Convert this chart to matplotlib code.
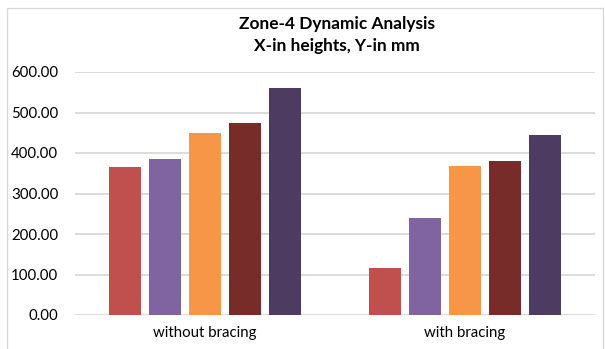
import numpy as np
import matplotlib.pyplot as plt
from matplotlib.patches import Rectangle

# data
categories = ['without bracing', 'with bracing']
series_1 = [365, 115]
series_2 = [385, 239]
series_3 = [450, 369]
series_4 = [473, 380]
series_5 = [561, 445]
colors = ['#C0504D', '#8064A2', '#F79646', '#772C2A', '#4D3B62']

plt.rcParams['font.family'] = ['Lato', 'DejaVu Sans']

fig = plt.figure(figsize=(6.05, 3.49), dpi=100)
ax = fig.add_axes([75 / 605, 1 - 315 / 349, 520 / 605, (315 - 72) / 349])

x = np.arange(len(categories))
width = 0.123
step = 0.154
all_series = [series_1, series_2, series_3, series_4, series_5]
for i, vals in enumerate(all_series):
    ax.bar(x + (i - 2) * step, vals, width, color=colors[i], zorder=3)

ax.set_xlim(-0.5, 1.5)
ax.set_ylim(0, 600)
ax.set_yticks(np.arange(0, 601, 100))
ax.set_yticklabels([f'{v:.2f}' for v in range(0, 601, 100)])
ax.set_xticks(x)
ax.set_xticklabels(categories)
ax.yaxis.grid(True, color='#D9D9D9', linewidth=1.3, zorder=0)
for s in ax.spines.values():
    s.set_visible(False)
ax.tick_params(length=0, labelsize=10.8, colors='#000000')
ax.tick_params(axis='y', pad=12)
ax.tick_params(axis='x', pad=8)

fig.text(337 / 605, 1 - 24 / 349, 'Zone-4 Dynamic Analysis', ha='center', va='center',
         fontsize=12.4, fontweight='bold')
fig.text(337 / 605, 1 - 46 / 349, 'X-in heights, Y-in mm', ha='center', va='center',
         fontsize=12.4, fontweight='bold')

# chart border
fig.patches.append(Rectangle((7 / 605, -0.01), 596 / 605, 1 - 8 / 349 + 0.01,
                             transform=fig.transFigure, fill=False,
                             edgecolor='#D9D9D9', linewidth=1))

fig.savefig('out.png', dpi=100)
